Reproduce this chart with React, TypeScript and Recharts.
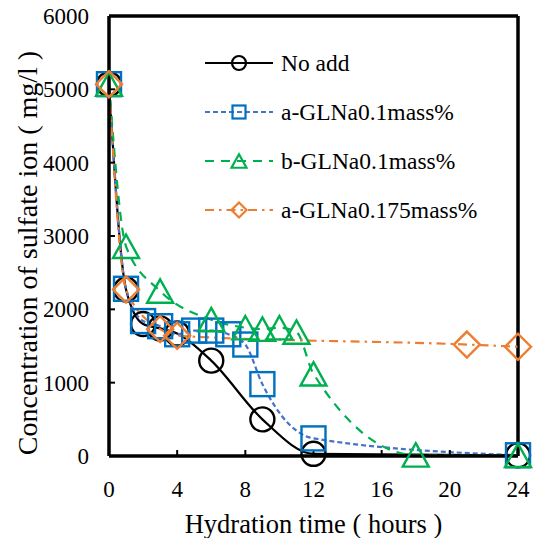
import React from 'react';
import { LineChart, Line, XAxis, YAxis, ReferenceLine } from 'recharts';

const FONT = '"Liberation Serif", "Times New Roman", Times, serif';

// Hydration time (hours) and sulfate ion concentration (mg/l) per mix
const noAddHours = [0, 1, 2, 3, 4, 6, 9, 12, 24];
const noAddValues = [5070, 2270, 1800, 1740, 1670, 1300, 500, 30, 10];

const aLowHours = [0, 1, 2, 3, 4, 5, 6, 7, 8, 9, 12, 24];
const aLowValues = [5070, 2280, 1840, 1770, 1660, 1710, 1710, 1660, 1520, 980, 240, 10];

const bLowHours = [0, 1, 3, 6, 8, 9, 10, 11, 12, 18, 24];
const bLowValues = [5070, 2860, 2250, 1860, 1750, 1730, 1750, 1690, 1120, 15, 10];

const aHighHours = [0, 1, 3, 4, 21, 24];
const aHighValues = [5070, 2270, 1730, 1640, 1520, 1490];

const xTicks = [0, 4, 8, 12, 16, 20, 24];
const yTicks = [0, 1000, 2000, 3000, 4000, 5000, 6000];

type Shape = 'circle' | 'square' | 'triangle' | 'diamond';

const zip = (hours: number[], values: number[]) =>
  hours.map((hour, i) => ({ hour, value: values[i] }));

const series: {
  name: string;
  data: { hour: number; value: number }[];
  lineColor: string;
  markerColor: string;
  dash?: string;
  shape: Shape;
}[] = [
  { name: 'No add', data: zip(noAddHours, noAddValues), lineColor: '#000000', markerColor: '#000000', shape: 'circle' },
  { name: 'a-GLNa0.1mass%', data: zip(aLowHours, aLowValues), lineColor: '#4472C4', markerColor: '#0070C0', dash: '5 3', shape: 'square' },
  { name: 'b-GLNa0.1mass%', data: zip(bLowHours, bLowValues), lineColor: '#00B050', markerColor: '#00B050', dash: '9 7', shape: 'triangle' },
  { name: 'a-GLNa0.175mass%', data: zip(aHighHours, aHighValues), lineColor: '#ED7D31', markerColor: '#ED7D31', dash: '9 5 2.5 5', shape: 'diamond' },
];

function Marker({ shape, cx, cy, size, color, sw }: { shape: Shape; cx: number; cy: number; size: number; color: string; sw: number }) {
  const h = size / 2;
  const common = { fill: 'none', stroke: color, strokeWidth: sw };
  if (shape === 'circle') return <circle cx={cx} cy={cy} r={h} {...common} />;
  if (shape === 'square') return <rect x={cx - h} y={cy - h} width={size} height={size} {...common} />;
  if (shape === 'triangle') {
    const hh = size * 0.45;
    return <polygon points={`${cx},${cy - hh} ${cx + h},${cy + hh} ${cx - h},${cy + hh}`} {...common} />;
  }
  return <polygon points={`${cx},${cy - h} ${cx + h},${cy} ${cx},${cy + h} ${cx - h},${cy}`} {...common} />;
}

const markerSize: Record<Shape, number> = { circle: 24, square: 24, triangle: 26, diamond: 26 };
const legendMarkerSize: Record<Shape, number> = { circle: 14, square: 13, triangle: 15, diamond: 15 };

// Legend drawn inside the plot frame, upper right
function LegendBox() {
  const rowGap = 49;
  return (
    <svg width={300} height={200} style={{ position: 'absolute', left: 195, top: 40, overflow: 'visible' }}>
      {series.map((s, i) => {
        const y = 23 + i * rowGap;
        return (
          <g key={s.name}>
            <line x1={10} x2={78} y1={y} y2={y} stroke={s.lineColor} strokeWidth={2.2} strokeDasharray={s.dash} />
            <Marker shape={s.shape} cx={44} cy={y} size={legendMarkerSize[s.shape]} color={s.markerColor} sw={2.2} />
            <text x={86} y={y + 8} style={{ fontFamily: FONT, fontSize: 23.5 }} fill="#000">{s.name}</text>
          </g>
        );
      })}
    </svg>
  );
}

const tickStyle = { fontSize: 23, fill: '#000', fontFamily: FONT, style: { fontFamily: FONT } };

export default function App() {
  return (
    <div style={{ position: 'absolute', left: 0, top: 0, width: 539, height: 538, background: '#fff', fontFamily: FONT }}>
      <LineChart width={539} height={538} margin={{ top: 16, right: 21, bottom: 0, left: 0 }} style={{ fontFamily: FONT }}>
        <XAxis
          dataKey="hour"
          type="number"
          domain={[0, 24]}
          ticks={xTicks}
          allowDuplicatedCategory={false}
          height={82}
          tick={tickStyle}
          tickSize={-6}
          tickMargin={31}
          axisLine={{ stroke: '#000', strokeWidth: 3.5 }}
          tickLine={{ stroke: '#000', strokeWidth: 2 }}
          label={{
            content: () => (
              <text x={313.5} y={533} textAnchor="middle" style={{ fontFamily: FONT, fontSize: 26.5 }} fill="#000">
                Hydration time ( hours )
              </text>
            ),
          }}
        />
        <YAxis
          dataKey="value"
          type="number"
          domain={[0, 6000]}
          ticks={yTicks}
          width={109}
          tick={tickStyle}
          tickSize={-6}
          tickMargin={26}
          axisLine={{ stroke: '#000', strokeWidth: 3.5 }}
          tickLine={{ stroke: '#000', strokeWidth: 2 }}
          label={{
            content: () => (
              <text
                x={37}
                y={253}
                transform="rotate(-90 37 253)"
                textAnchor="middle"
                style={{ fontFamily: FONT, fontSize: 28 }}
                fill="#000"
              >
                Concentration of sulfate ion ( mg/l )
              </text>
            ),
          }}
        />
        <ReferenceLine y={6000} stroke="#000" strokeWidth={3.5} ifOverflow="extendDomain" />
        <ReferenceLine x={24} stroke="#000" strokeWidth={3.5} ifOverflow="extendDomain" />
        {series.map((s) => (
          <Line
            key={s.name}
            name={s.name}
            data={s.data}
            dataKey="value"
            type="monotone"
            stroke={s.lineColor}
            strokeWidth={2.2}
            strokeDasharray={s.dash}
            isAnimationActive={false}
            dot={(p: any) => (
              <Marker
                key={`${s.name}-${p.index}`}
                shape={s.shape}
                cx={p.cx}
                cy={p.cy}
                size={markerSize[s.shape]}
                color={s.markerColor}
                sw={2.4}
              />
            )}
            activeDot={false}
          />
        ))}
      </LineChart>
      <LegendBox />
    </div>
  );
}
